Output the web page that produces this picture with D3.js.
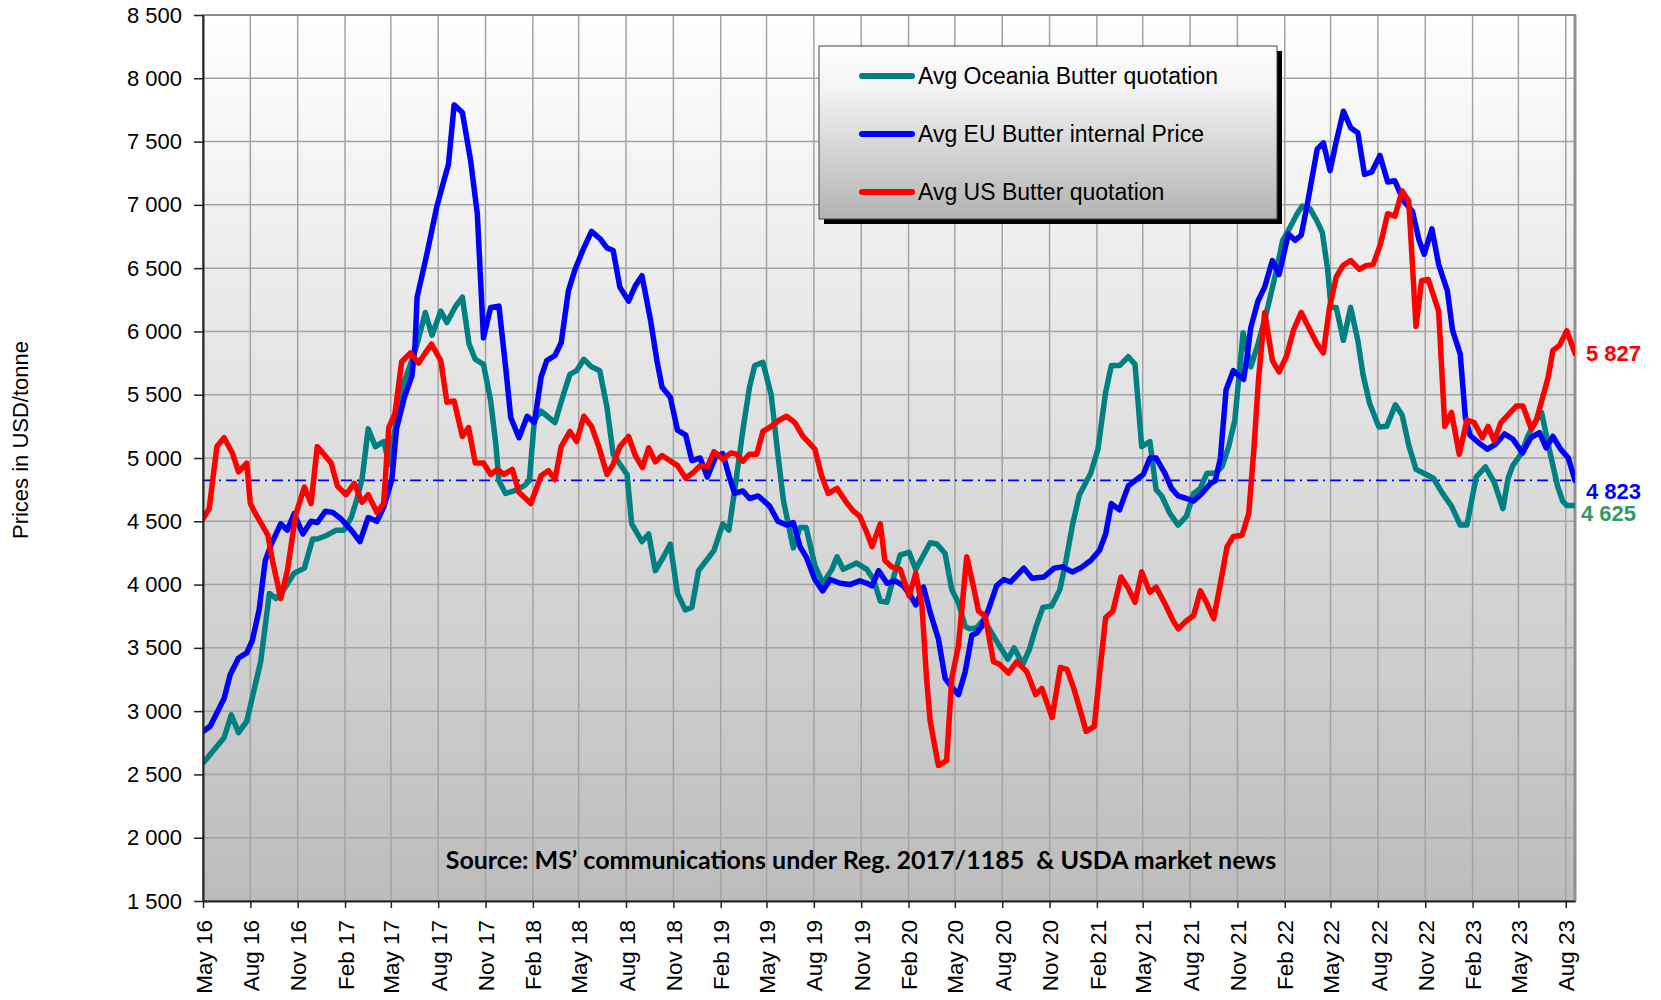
<!DOCTYPE html>
<html><head><meta charset="utf-8">
<script src="https://cdn.jsdelivr.net/npm/d3@7"></script>
<style>
html,body{margin:0;padding:0;background:#fff;}
svg{display:block;font-family:"Liberation Sans",Arial,sans-serif;}
</style></head><body>
<svg id="chart" width="1661" height="1000"></svg>
<script>
// ---------------- DATA ----------------
const seriesNames = ["Avg Oceania Butter quotation", "Avg EU Butter internal Price", "Avg US Butter quotation"];
const oceania = [["2016-05-01",2590],["2016-06-11",2790],["2016-06-25",2970],["2016-07-09",2830],["2016-07-25",2920],["2016-08-21",3390],["2016-09-07",3930],["2016-09-20",3890],["2016-10-05",3960],["2016-10-25",4090],["2016-11-14",4130],["2016-11-30",4360],["2016-12-09",4360],["2016-12-28",4390],["2017-01-15",4430],["2017-01-30",4430],["2017-02-13",4530],["2017-02-23",4660],["2017-03-06",4830],["2017-03-18",5230],["2017-04-01",5090],["2017-04-17",5130],["2017-04-28",4950],["2017-05-10",5250],["2017-05-22",5550],["2017-06-08",5740],["2017-06-21",5900],["2017-07-07",6150],["2017-07-20",5970],["2017-08-06",6160],["2017-08-18",6070],["2017-09-04",6200],["2017-09-17",6270],["2017-09-30",5900],["2017-10-12",5780],["2017-10-28",5740],["2017-11-11",5450],["2017-11-21",5110],["2017-11-27",4820],["2017-12-10",4720],["2017-12-26",4740],["2018-01-15",4780],["2018-01-25",4820],["2018-02-04",5300],["2018-02-17",5370],["2018-03-16",5280],["2018-04-02",5510],["2018-04-14",5660],["2018-04-27",5690],["2018-05-11",5780],["2018-05-26",5720],["2018-06-11",5690],["2018-06-25",5400],["2018-07-07",5030],["2018-08-03",4870],["2018-08-12",4480],["2018-09-01",4340],["2018-09-14",4400],["2018-09-27",4110],["2018-10-13",4220],["2018-10-26",4320],["2018-11-09",3930],["2018-11-24",3800],["2018-12-07",3820],["2018-12-20",4110],["2019-01-06",4200],["2019-01-19",4270],["2019-02-05",4480],["2019-02-17",4430],["2019-03-03",4830],["2019-03-16",5220],["2019-03-29",5560],["2019-04-08",5730],["2019-04-24",5755],["2019-05-10",5500],["2019-05-23",5030],["2019-06-03",4660],["2019-06-22",4290],["2019-07-05",4450],["2019-07-17",4450],["2019-08-03",4150],["2019-08-19",4010],["2019-09-05",4120],["2019-09-15",4220],["2019-09-27",4120],["2019-10-23",4170],["2019-11-12",4120],["2019-11-25",4040],["2019-12-08",3870],["2019-12-21",3860],["2020-01-03",4060],["2020-01-16",4235],["2020-02-02",4255],["2020-02-15",4120],["2020-02-27",4210],["2020-03-14",4330],["2020-03-27",4320],["2020-04-12",4245],["2020-04-25",3960],["2020-05-08",3855],["2020-05-21",3670],["2020-05-30",3650],["2020-06-13",3660],["2020-06-26",3725],["2020-07-23",3540],["2020-08-12",3410],["2020-08-24",3500],["2020-09-10",3370],["2020-09-23",3490],["2020-10-06",3670],["2020-10-19",3820],["2020-11-05",3830],["2020-11-21",3960],["2020-12-03",4190],["2020-12-16",4480],["2020-12-29",4710],["2021-01-20",4880],["2021-02-03",5070],["2021-02-18",5520],["2021-03-01",5730],["2021-03-17",5730],["2021-04-03",5800],["2021-04-16",5740],["2021-04-29",5090],["2021-05-15",5130],["2021-05-27",4750],["2021-06-07",4700],["2021-06-23",4560],["2021-07-09",4470],["2021-07-25",4540],["2021-08-08",4720],["2021-08-21",4760],["2021-09-03",4880],["2021-09-19",4880],["2021-10-02",4930],["2021-10-15",5090],["2021-10-27",5300],["2021-11-12",5990],["2021-11-27",5720],["2021-12-11",5900],["2021-12-27",6140],["2022-01-14",6450],["2022-01-28",6720],["2022-02-11",6820],["2022-02-25",6930],["2022-03-07",6990],["2022-03-22",6970],["2022-04-05",6870],["2022-04-15",6780],["2022-04-25",6500],["2022-05-02",6190],["2022-05-12",6190],["2022-05-26",5930],["2022-06-09",6190],["2022-06-23",5930],["2022-07-03",5660],["2022-07-16",5430],["2022-08-03",5245],["2022-08-18",5250],["2022-09-04",5420],["2022-09-17",5340],["2022-09-30",5100],["2022-10-14",4910],["2022-11-03",4870],["2022-11-17",4840],["2022-12-03",4730],["2022-12-22",4620],["2023-01-08",4470],["2023-01-21",4470],["2023-02-08",4850],["2023-02-26",4930],["2023-03-15",4810],["2023-04-01",4600],["2023-04-11",4840],["2023-04-20",4940],["2023-05-06",5030],["2023-05-19",5170],["2023-06-05",5300],["2023-06-15",5360],["2023-06-30",5070],["2023-07-16",4780],["2023-07-26",4660],["2023-08-03",4625],["2023-08-19",4625]];
const eu = [["2016-05-01",2840],["2016-05-15",2880],["2016-06-11",3100],["2016-06-23",3290],["2016-07-09",3420],["2016-07-25",3460],["2016-08-05",3560],["2016-08-18",3800],["2016-08-30",4190],["2016-09-13",4340],["2016-09-29",4480],["2016-10-12",4430],["2016-10-25",4560],["2016-11-11",4400],["2016-11-27",4500],["2016-12-09",4490],["2016-12-25",4580],["2017-01-08",4570],["2017-01-24",4520],["2017-02-13",4430],["2017-03-02",4340],["2017-03-18",4530],["2017-04-04",4500],["2017-04-17",4610],["2017-05-03",4830],["2017-05-12",5230],["2017-05-28",5490],["2017-06-11",5650],["2017-06-17",5890],["2017-06-21",6270],["2017-07-10",6610],["2017-07-29",6980],["2017-08-12",7190],["2017-08-21",7320],["2017-09-01",7790],["2017-09-17",7730],["2017-10-03",7350],["2017-10-16",6930],["2017-10-28",5950],["2017-11-11",6190],["2017-11-27",6200],["2017-12-10",5720],["2017-12-20",5320],["2018-01-05",5160],["2018-01-21",5330],["2018-02-04",5280],["2018-02-17",5640],["2018-02-28",5770],["2018-03-16",5810],["2018-03-28",5910],["2018-04-11",6320],["2018-04-24",6490],["2018-05-10",6650],["2018-05-26",6790],["2018-06-12",6730],["2018-06-25",6660],["2018-07-07",6640],["2018-07-20",6350],["2018-08-06",6240],["2018-08-19",6360],["2018-09-01",6440],["2018-09-18",6080],["2018-09-30",5770],["2018-10-10",5560],["2018-10-26",5480],["2018-11-09",5220],["2018-11-25",5180],["2018-12-07",4980],["2018-12-23",5000],["2019-01-06",4850],["2019-01-22",5010],["2019-02-05",5035],["2019-02-17",4860],["2019-02-28",4720],["2019-03-16",4740],["2019-03-29",4680],["2019-04-15",4700],["2019-05-07",4620],["2019-05-23",4500],["2019-06-09",4470],["2019-06-22",4490],["2019-07-05",4300],["2019-07-17",4220],["2019-08-03",4040],["2019-08-18",3950],["2019-09-02",4040],["2019-09-21",4010],["2019-10-10",4000],["2019-10-29",4030],["2019-11-12",4010],["2019-11-22",3990],["2019-12-05",4110],["2019-12-21",4010],["2020-01-06",4030],["2020-01-22",3990],["2020-02-05",3910],["2020-02-15",3840],["2020-03-01",3980],["2020-03-14",3780],["2020-03-30",3570],["2020-04-12",3260],["2020-04-25",3190],["2020-05-08",3130],["2020-05-21",3310],["2020-06-03",3600],["2020-06-13",3620],["2020-06-22",3670],["2020-07-05",3800],["2020-07-21",3990],["2020-08-04",4040],["2020-08-17",4020],["2020-09-12",4130],["2020-09-28",4050],["2020-10-21",4060],["2020-11-10",4130],["2020-11-26",4140],["2020-12-15",4100],["2020-12-31",4130],["2021-01-20",4190],["2021-02-06",4270],["2021-02-18",4400],["2021-03-01",4640],["2021-03-17",4590],["2021-04-03",4780],["2021-04-16",4820],["2021-05-02",4870],["2021-05-15",5000],["2021-05-27",5000],["2021-06-13",4880],["2021-06-26",4760],["2021-07-09",4700],["2021-07-25",4680],["2021-08-08",4660],["2021-08-24",4720],["2021-09-10",4800],["2021-09-19",4820],["2021-09-29",5000],["2021-10-10",5540],["2021-10-24",5690],["2021-11-13",5620],["2021-11-20",5810],["2021-11-27",6030],["2021-12-11",6240],["2021-12-24",6350],["2022-01-08",6560],["2022-01-21",6450],["2022-02-08",6770],["2022-02-21",6720],["2022-03-05",6760],["2022-03-18",7030],["2022-04-05",7440],["2022-04-17",7490],["2022-04-30",7270],["2022-05-12",7500],["2022-05-26",7740],["2022-06-09",7610],["2022-06-23",7570],["2022-07-06",7240],["2022-07-20",7260],["2022-08-05",7390],["2022-08-20",7180],["2022-09-03",7190],["2022-09-20",7030],["2022-10-07",6950],["2022-10-20",6720],["2022-10-30",6610],["2022-11-14",6810],["2022-11-27",6530],["2022-12-14",6320],["2022-12-24",6010],["2023-01-08",5820],["2023-01-18",5320],["2023-01-27",5180],["2023-02-16",5110],["2023-03-02",5070],["2023-03-18",5110],["2023-04-04",5190],["2023-04-20",5150],["2023-05-09",5040],["2023-05-25",5160],["2023-06-11",5200],["2023-06-24",5080],["2023-07-07",5170],["2023-07-22",5070],["2023-08-06",5000],["2023-08-19",4823]];
const us = [["2016-05-01",4520],["2016-05-13",4600],["2016-05-28",5090],["2016-06-11",5160],["2016-06-27",5040],["2016-07-09",4890],["2016-07-25",4960],["2016-08-01",4640],["2016-08-11",4560],["2016-09-04",4390],["2016-09-13",4190],["2016-09-29",3890],["2016-10-12",4110],["2016-10-28",4550],["2016-11-14",4770],["2016-11-27",4640],["2016-12-09",5090],["2016-12-22",5030],["2017-01-05",4960],["2017-01-17",4780],["2017-02-03",4710],["2017-02-19",4800],["2017-03-06",4650],["2017-03-18",4710],["2017-04-04",4570],["2017-04-17",4640],["2017-04-27",5240],["2017-05-09",5350],["2017-05-22",5760],["2017-06-08",5830],["2017-06-24",5750],["2017-07-07",5830],["2017-07-19",5900],["2017-08-06",5770],["2017-08-18",5440],["2017-09-01",5450],["2017-09-17",5170],["2017-09-29",5240],["2017-10-12",4960],["2017-10-28",4960],["2017-11-11",4870],["2017-11-24",4910],["2017-12-07",4870],["2017-12-23",4910],["2018-01-05",4730],["2018-01-28",4640],["2018-02-17",4860],["2018-03-03",4900],["2018-03-16",4830],["2018-03-28",5090],["2018-04-14",5210],["2018-04-27",5130],["2018-05-11",5330],["2018-05-26",5250],["2018-06-09",5090],["2018-06-25",4870],["2018-07-07",4950],["2018-07-20",5090],["2018-08-06",5170],["2018-08-19",5020],["2018-09-02",4925],["2018-09-14",5080],["2018-09-27",4970],["2018-10-10",5020],["2018-11-09",4940],["2018-11-25",4840],["2018-12-11",4890],["2018-12-23",4940],["2019-01-06",4930],["2019-01-19",5050],["2019-02-05",4990],["2019-02-21",5040],["2019-03-03",5030],["2019-03-16",4975],["2019-03-29",5030],["2019-04-12",5030],["2019-04-24",5210],["2019-05-10",5250],["2019-05-26",5300],["2019-06-09",5330],["2019-06-25",5280],["2019-07-11",5170],["2019-08-03",5070],["2019-08-16",4860],["2019-08-29",4720],["2019-09-15",4760],["2019-10-04",4645],["2019-10-17",4580],["2019-10-29",4540],["2019-11-12",4410],["2019-11-22",4300],["2019-12-08",4480],["2019-12-17",4190],["2019-12-30",4140],["2020-01-16",4120],["2020-02-02",3910],["2020-02-15",4090],["2020-02-27",3830],["2020-03-07",3260],["2020-03-14",2920],["2020-03-30",2570],["2020-04-15",2610],["2020-04-25",3260],["2020-05-08",3520],["2020-05-24",4220],["2020-06-06",3985],["2020-06-16",3790],["2020-06-29",3750],["2020-07-15",3390],["2020-07-27",3370],["2020-08-13",3300],["2020-08-29",3390],["2020-09-18",3310],["2020-10-05",3130],["2020-10-17",3180],["2020-11-06",2950],["2020-11-22",3345],["2020-12-05",3330],["2020-12-18",3180],["2020-12-31",3000],["2021-01-11",2840],["2021-01-27",2880],["2021-02-06",3290],["2021-02-18",3740],["2021-03-04",3790],["2021-03-20",4060],["2021-04-03",3970],["2021-04-16",3860],["2021-04-29",4100],["2021-05-15",3940],["2021-05-27",3980],["2021-06-13",3850],["2021-06-29",3715],["2021-07-09",3650],["2021-07-25",3715],["2021-08-08",3755],["2021-08-21",3950],["2021-09-03",3850],["2021-09-16",3730],["2021-09-29",4010],["2021-10-12",4300],["2021-10-24",4380],["2021-11-10",4390],["2021-11-23",4560],["2021-12-03",5070],["2021-12-12",5620],["2021-12-24",6150],["2022-01-08",5770],["2022-01-21",5680],["2022-02-04",5800],["2022-02-18",6010],["2022-03-05",6150],["2022-03-21",6020],["2022-04-05",5900],["2022-04-17",5830],["2022-04-29",6190],["2022-05-12",6430],["2022-05-25",6520],["2022-06-09",6560],["2022-06-26",6490],["2022-07-09",6520],["2022-07-23",6530],["2022-08-06",6690],["2022-08-20",6930],["2022-09-03",6910],["2022-09-17",7110],["2022-09-30",7030],["2022-10-14",6040],["2022-10-25",6400],["2022-11-07",6410],["2022-11-27",6160],["2022-12-09",5250],["2022-12-22",5360],["2023-01-06",5030],["2023-01-21",5300],["2023-02-04",5280],["2023-02-20",5160],["2023-03-03",5250],["2023-03-15",5135],["2023-03-28",5280],["2023-04-11",5340],["2023-04-27",5410],["2023-05-10",5410],["2023-05-26",5230],["2023-06-05",5300],["2023-06-18",5490],["2023-06-28",5640],["2023-07-07",5850],["2023-07-20",5890],["2023-08-03",6005],["2023-08-19",5827]];
const referenceLevel = 4823;
const yTickValues = [1500, 2000, 2500, 3000, 3500, 4000, 4500, 5000, 5500, 6000, 6500, 7000, 7500, 8000, 8500];
const xTickLabels = ["May 16","Aug 16","Nov 16","Feb 17","May 17","Aug 17","Nov 17","Feb 18","May 18","Aug 18","Nov 18","Feb 19","May 19","Aug 19","Nov 19","Feb 20","May 20","Aug 20","Nov 20","Feb 21","May 21","Aug 21","Nov 21","Feb 22","May 22","Aug 22","Nov 22","Feb 23","May 23","Aug 23"];
const yTitle = "Prices in USD/tonne";
const sourceNote = "Source: MS\u2019 communications under Reg. 2017/1185  & USDA market news";

// ---------------- LAYOUT ----------------
const L = 203, R = 1575, T = 15, B = 901;
const colors = ["#008080", "#0000ff", "#ff0000"];
const endColors = ["#339966", "#0000ff", "#ff0000"];
const parse = d3.timeParse("%Y-%m-%d");
const tickParse = d3.timeParse("%b %y");
const fmt = d3.formatLocale({decimal: ".", thousands: " ", grouping: [3], currency: ["", ""]}).format(",.0f");

const svg = d3.select("#chart");
const defs = svg.append("defs");
const g1 = defs.append("linearGradient").attr("id", "bg").attr("x1", 0).attr("y1", 0).attr("x2", 0).attr("y2", 1);
g1.append("stop").attr("offset", "0%").attr("stop-color", "#ffffff");
g1.append("stop").attr("offset", "100%").attr("stop-color", "#bcbcbc");
const g2 = defs.append("linearGradient").attr("id", "lg").attr("x1", 0).attr("y1", 0).attr("x2", 0).attr("y2", 1);
g2.append("stop").attr("offset", "0%").attr("stop-color", "#ffffff");
g2.append("stop").attr("offset", "25%").attr("stop-color", "#f3f3f3");
g2.append("stop").attr("offset", "100%").attr("stop-color", "#b3b3b3");
defs.append("clipPath").attr("id", "clip").append("rect").attr("x", L).attr("y", T).attr("width", R - L).attr("height", B - T);

const allDates = [...oceania, ...eu, ...us].map(d => parse(d[0]));
const x = d3.scaleTime().domain(d3.extent(allDates)).range([L, R]);
const y = d3.scaleLinear().domain([d3.min(yTickValues), d3.max(yTickValues)]).range([B, T]);
const xTicks = xTickLabels.map(s => tickParse(s));

// plot background
svg.append("rect").attr("x", L).attr("y", T).attr("width", R - L).attr("height", B - T).attr("fill", "url(#bg)");

// gridlines
svg.append("g").selectAll("line").data(yTickValues).join("line")
  .attr("x1", L).attr("x2", R).attr("y1", d => y(d)).attr("y2", d => y(d))
  .attr("stroke", "#a3a3a3").attr("stroke-width", 1.5);
svg.append("g").selectAll("line").data(xTicks).join("line")
  .attr("x1", d => x(d)).attr("x2", d => x(d)).attr("y1", T).attr("y2", B)
  .attr("stroke", "#a3a3a3").attr("stroke-width", 1.5);

// plot frame (top/right)
svg.append("rect").attr("x", L).attr("y", T).attr("width", R - L).attr("height", B - T)
  .attr("fill", "none").attr("stroke", "#8c8c8c").attr("stroke-width", 2);
svg.append("line").attr("x1", R).attr("x2", R).attr("y1", T).attr("y2", B).attr("stroke", "#909090").attr("stroke-width", 3);

// reference dash-dot line
svg.append("line").attr("x1", L).attr("x2", R).attr("y1", y(referenceLevel)).attr("y2", y(referenceLevel))
  .attr("stroke", "#0000ff").attr("stroke-width", 1.6).attr("stroke-dasharray", "11,5,2,5");

// series lines
const line = d3.line().x(d => x(parse(d[0]))).y(d => y(d[1]));
const series = [oceania, eu, us];
const gl = svg.append("g").attr("clip-path", "url(#clip)");
series.forEach((s, i) => {
  gl.append("path").datum(s).attr("d", line).attr("fill", "none")
    .attr("stroke", colors[i]).attr("stroke-width", 5.5)
    .attr("stroke-linejoin", "round").attr("stroke-linecap", "round");
});

// axes
const ya = svg.append("g").attr("transform", `translate(${L},0)`)
  .call(d3.axisLeft(y).tickValues(yTickValues).tickSize(9).tickSizeOuter(0).tickPadding(12).tickFormat(fmt));
ya.select(".domain").attr("stroke", "#222").attr("stroke-width", 2);
ya.selectAll(".tick line").attr("stroke", "#222").attr("stroke-width", 1.5);
ya.selectAll("text").attr("font-size", 22).attr("fill", "#000").attr("font-family", "Liberation Sans, Arial, sans-serif");

const xa = svg.append("g").attr("transform", `translate(0,${B})`)
  .call(d3.axisBottom(x).tickValues(xTicks).tickSize(7).tickSizeOuter(0).tickFormat(d3.timeFormat("%b %y")));
xa.select(".domain").attr("stroke", "#222").attr("stroke-width", 2);
xa.selectAll(".tick line").attr("stroke", "#222").attr("stroke-width", 1.5);
xa.selectAll("text").attr("font-size", 22.5).attr("fill", "#000").attr("font-family", "Liberation Sans, Arial, sans-serif")
  .attr("transform", "rotate(-90)").attr("x", -19).attr("y", 0).attr("dy", "0.36em").attr("text-anchor", "end");

// y title
svg.append("text").attr("transform", "translate(28,440) rotate(-90)").attr("text-anchor", "middle")
  .attr("font-size", 22).attr("fill", "#000").text(yTitle);

// source note
svg.append("text").attr("x", 861).attr("y", 869).attr("text-anchor", "middle")
  .attr("font-family", "Lato, 'Open Sans', sans-serif").attr("font-weight", "bold").attr("font-size", 25)
  .style("white-space", "pre").attr("fill", "#000").text(sourceNote);

// legend
const lgX = 819, lgY = 46, lgW = 458, lgH = 173;
svg.append("rect").attr("x", lgX + 5).attr("y", lgY + 5).attr("width", lgW).attr("height", lgH).attr("fill", "#000");
svg.append("rect").attr("x", lgX).attr("y", lgY).attr("width", lgW).attr("height", lgH)
  .attr("fill", "url(#lg)").attr("stroke", "#444").attr("stroke-width", 1);
const lgItems = svg.append("g").selectAll("g").data(seriesNames).join("g")
  .attr("transform", (d, i) => `translate(${lgX},${lgY + 30 + i * 58})`);
lgItems.append("line").attr("x1", 43).attr("x2", 93).attr("y1", 0).attr("y2", 0)
  .attr("stroke", (d, i) => colors[i]).attr("stroke-width", 6).attr("stroke-linecap", "round");
lgItems.append("text").attr("x", 99).attr("y", 0).attr("dy", "0.36em").attr("font-size", 23).attr("fill", "#000").text(d => d);

// end value labels
const lastVals = series.map(s => s[s.length - 1][1]);
const endNudge = [8, 11, 0];
svg.append("g").selectAll("text").data(lastVals).join("text")
  .attr("x", (d, i) => i === 0 ? 1581 : 1586).attr("y", (d, i) => y(d) + endNudge[i]).attr("dy", "0.36em")
  .attr("font-size", 22).attr("font-weight", "bold").attr("fill", (d, i) => endColors[i]).text(d => fmt(d));
</script>
</body></html>
